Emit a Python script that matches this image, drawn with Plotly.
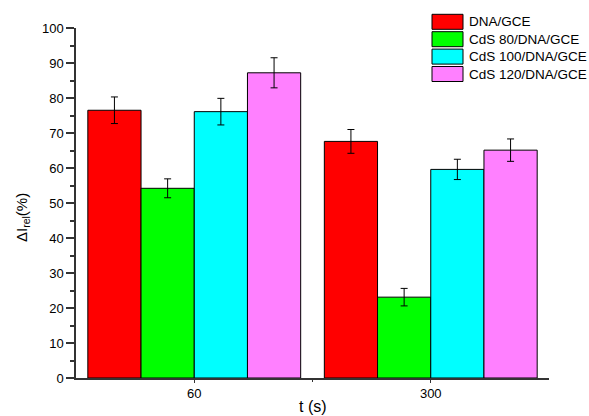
import plotly.graph_objects as go

categories = ["60", "300"]
series_names = ["DNA/GCE", "CdS 80/DNA/GCE", "CdS 100/DNA/GCE", "CdS 120/DNA/GCE"]
dna_gce = [76.5, 67.6]
dna_gce_err = [3.8, 3.4]
cds80 = [54.2, 23.1]
cds80_err = [2.7, 2.5]
cds100 = [76.1, 59.6]
cds100_err = [3.8, 2.9]
cds120 = [87.2, 65.1]
cds120_err = [4.3, 3.2]
colors = ["#FF0000", "#00FF00", "#00FFFF", "#FF80FF"]

values = [dna_gce, cds80, cds100, cds120]
errors = [dna_gce_err, cds80_err, cds100_err, cds120_err]

W, H = 589, 416
L, R, T, B = 76, 40, 28, 38
PW, PH = W - L - R, H - T - B


def px_x(px):
    return (px - L) / PW


def px_y(py):
    return (H - B - py) / PH


xpos = list(range(len(categories)))

fig = go.Figure()
for name, v, e, c in zip(series_names, values, errors, colors):
    fig.add_trace(go.Bar(
        x=xpos, y=v, name=name, showlegend=False,
        marker=dict(color=c, line=dict(color="#000000", width=1)),
        error_y=dict(type="data", array=e, visible=True, color="#000000", thickness=1, width=3.5),
    ))

shapes = []
annotations = []
# custom legend (swatches like the reference)
row_centers = [21.8, 39.2, 56.6, 74.0]
for name, c, yc in zip(series_names, colors, row_centers):
    shapes.append(dict(type="rect", xref="paper", yref="paper",
                       x0=px_x(432), x1=px_x(463), y0=px_y(yc - 7.5), y1=px_y(yc + 7.5),
                       fillcolor=c, line=dict(color="#000000", width=1)))
    annotations.append(dict(xref="paper", yref="paper", x=px_x(467), y=px_y(yc),
                            xanchor="left", yanchor="middle", showarrow=False,
                            text=name, font=dict(size=13.5, color="#000000")))

annotations.append(dict(xref="paper", yref="paper", x=px_x(313), y=px_y(406),
                        xanchor="center", yanchor="middle", showarrow=False,
                        text="t (s)", font=dict(size=16, color="#000000")))
annotations.append(dict(xref="paper", yref="paper", x=px_x(22), y=px_y(218),
                        xanchor="center", yanchor="middle", showarrow=False, textangle=-90,
                        text="ΔI<sub>rel</sub>(%)", font=dict(size=15, color="#000000")))

fig.update_layout(
    width=W, height=H,
    margin=dict(l=L, r=R, t=T, b=B, autoexpand=False),
    paper_bgcolor="white", plot_bgcolor="white",
    barmode="group", bargap=0.1, bargroupgap=0,
    font=dict(family="Liberation Sans, Arial", size=13, color="#000000"),
    showlegend=False,
    shapes=shapes, annotations=annotations,
    xaxis=dict(range=[-0.5, len(categories) - 0.5], tickvals=xpos, ticktext=categories,
               showline=True, linecolor="#333333", linewidth=1.5,
               ticks="outside", ticklen=3, tickcolor="#333333", tickwidth=1,
               minor=dict(tickvals=[0.5], ticks="outside", ticklen=2, tickcolor="#333333", tickwidth=1),
               showgrid=False, zeroline=False, automargin=False),
    yaxis=dict(range=[0, 100], dtick=10, showline=True, linecolor="#333333", linewidth=1.5,
               ticks="outside", ticklen=8, tickcolor="#333333", tickwidth=1.5,
               minor=dict(dtick=5, ticks="outside", ticklen=4, tickcolor="#333333", tickwidth=1.5),
               showgrid=False, zeroline=False, automargin=False),
)

fig.write_html("out.html", config={"displayModeBar": False},
               post_script="document.body.style.margin='0';document.body.style.overflow='hidden';")
